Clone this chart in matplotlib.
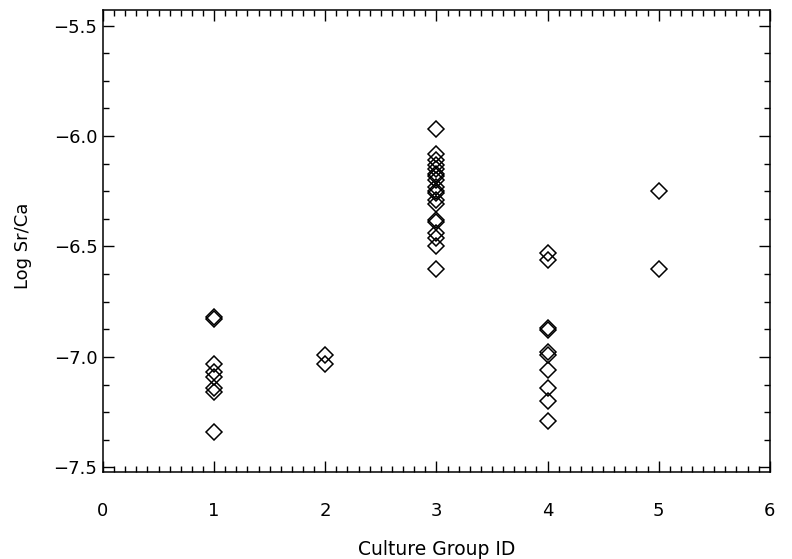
import numpy as np
import matplotlib
matplotlib.use("Agg")
import matplotlib.pyplot as plt
from matplotlib.ticker import MultipleLocator, FuncFormatter

# Valores (Log Sr/Ca por grupo cultural)
grupo1 = [-6.82, -6.83, -7.03, -7.07, -7.09, -7.14, -7.16, -7.34]
grupo2 = [-6.99, -7.03]
grupo3 = [-5.97, -6.08, -6.11, -6.13, -6.15, -6.17, -6.18, -6.20, -6.23,
          -6.25, -6.26, -6.29, -6.31, -6.38, -6.39, -6.44, -6.46, -6.50, -6.60]
grupo4 = [-6.53, -6.56, -6.87, -6.88, -6.98, -6.99, -7.06, -7.14, -7.20, -7.29]
grupo5 = [-6.25, -6.60]

grupos = [grupo1, grupo2, grupo3, grupo4, grupo5]
ids = [1, 2, 3, 4, 5]

plt.rcParams['font.family'] = ['DejaVu Sans']

fig = plt.figure(figsize=(7.92, 5.59), dpi=100)
ax = fig.add_axes([0.130, 0.156, 0.842, 0.826])

for gid, vals in zip(ids, grupos):
    ax.plot([gid] * len(vals), vals, linestyle="none", marker="D",
            markersize=8, markerfacecolor="none", markeredgecolor="black",
            markeredgewidth=1.1)

ax.set_xlim(0, 6)
ax.set_ylim(-7.52, -5.43)
ax.xaxis.set_major_locator(MultipleLocator(1))
ax.xaxis.set_minor_locator(MultipleLocator(0.1))
ax.yaxis.set_major_locator(MultipleLocator(0.5))
ax.yaxis.set_minor_locator(MultipleLocator(0.125))
ax.yaxis.set_major_formatter(FuncFormatter(lambda v, p: f"{v:.1f}".replace("-", "\u2212")))

ax.tick_params(which="both", direction="in", top=True, right=True, width=1)
ax.tick_params(which="major", length=8, labelsize=13)
ax.tick_params(which="minor", length=4)
ax.tick_params(axis="x", which="major", pad=22)
ax.tick_params(axis="y", which="major", pad=4)
for s in ax.spines.values():
    s.set_linewidth(1.1)

ax.set_xlabel("Culture Group ID", fontsize=13.5, labelpad=14)
ax.set_ylabel("Log Sr/Ca", fontsize=13)
ax.yaxis.set_label_coords(-0.107, 0.49)

fig.savefig("out.png", dpi=100)
